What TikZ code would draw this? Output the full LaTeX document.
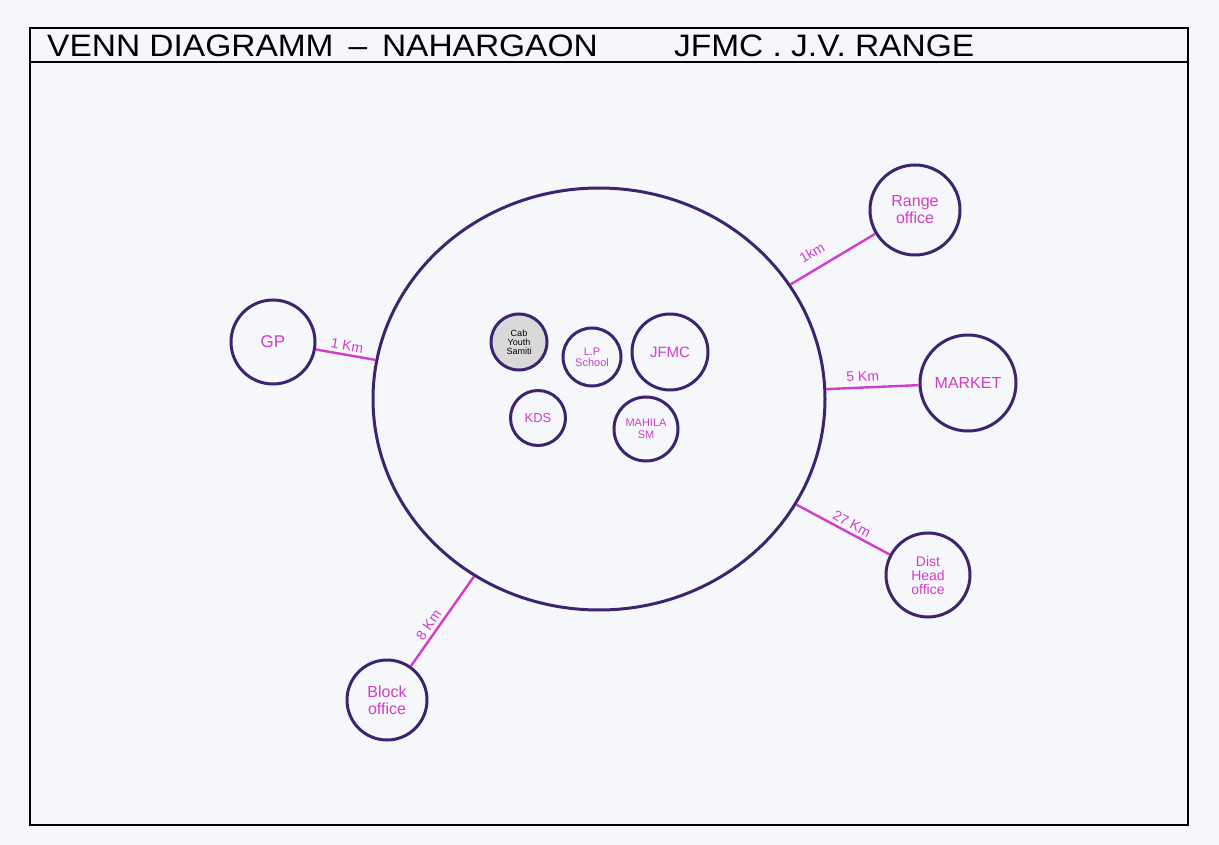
\documentclass[tikz,border=0pt]{standalone}
\usepackage{fontspec}
\setmainfont{Liberation Sans}
\usetikzlibrary{shapes.geometric}
\begin{document}
\begin{tikzpicture}[x=1pt,y=-1pt,
  ring/.style={circle,draw=ringc,line width=3pt,inner sep=0pt,font=\fontsize{15}{16}\selectfont,text=magc,align=center},
  link/.style={draw=magc,line width=2.4pt},
  dist/.style={text=magc,font=\fontsize{14}{15}\selectfont,inner sep=3pt}]
\definecolor{ringc}{HTML}{3E2470}
\definecolor{magc}{HTML}{D23CC8}
\definecolor{paper}{HTML}{F6F7FB}
\useasboundingbox (0,0) rectangle (1219,845);
\fill[paper] (0,0) rectangle (1219,845);
% frame
\draw[line width=2pt] (30,28) rectangle (1188,825);
\draw[line width=2pt] (30,62) -- (1188,62);
\node[anchor=west,font=\fontsize{31}{32}\selectfont,inner sep=0pt,xscale=1.08] (title) at (47,46) {VENN DIAGRAMM \,–\, NAHARGAON \qquad JFMC . J.V. RANGE};
% big circle
\node[ring,ellipse,minimum width=452pt,minimum height=422pt] (big) at (599,399) {};
% inner circles
\node[ring,minimum size=56pt,fill=black!15,text=black,font=\fontsize{9}{9}\selectfont] (cab) at (519,342) {Cab\\Youth\\Samiti};
\node[ring,minimum size=58pt,font=\fontsize{11}{11}\selectfont] (lp) at (592,357) {L.P\\School};
\node[ring,minimum size=76pt] (jfmc) at (670,352) {JFMC};
\node[ring,minimum size=55pt,font=\fontsize{13}{13}\selectfont] (kds) at (538,418) {KDS};
\node[ring,minimum size=64pt,font=\fontsize{11}{12}\selectfont] (mahila) at (646,429) {MAHILA\\SM};
% outer circles
\node[ring,minimum size=84pt,font=\fontsize{17}{17}\selectfont] (gp) at (273,342) {GP};
\node[ring,minimum size=90pt,font=\fontsize{16}{17}\selectfont] (range) at (915,210) {Range\\office};
\node[ring,minimum size=96pt,font=\fontsize{16}{16}\selectfont] (market) at (968,383) {MARKET};
\node[ring,minimum size=84pt,font=\fontsize{14}{14}\selectfont] (dist) at (928,575) {Dist\\Head\\office};
\node[ring,minimum size=80pt,font=\fontsize{16}{17}\selectfont] (block) at (387,700) {Block\\office};
% connectors
\draw[link] (gp) -- (big) node[dist,midway,above,sloped] {1 Km};
\draw[link] (big) -- (range) node[dist,pos=0.35,above=7pt,sloped] {1km};
\draw[link] (big) -- (market) node[dist,pos=0.4,above=2pt,sloped] {5 Km};
\draw[link] (big) -- (dist) node[dist,pos=0.55,above,sloped] {27 Km};
\draw[link] (block) -- (big) node[dist,pos=0.4,above,sloped] {8 Km};
\end{tikzpicture}
\end{document}
